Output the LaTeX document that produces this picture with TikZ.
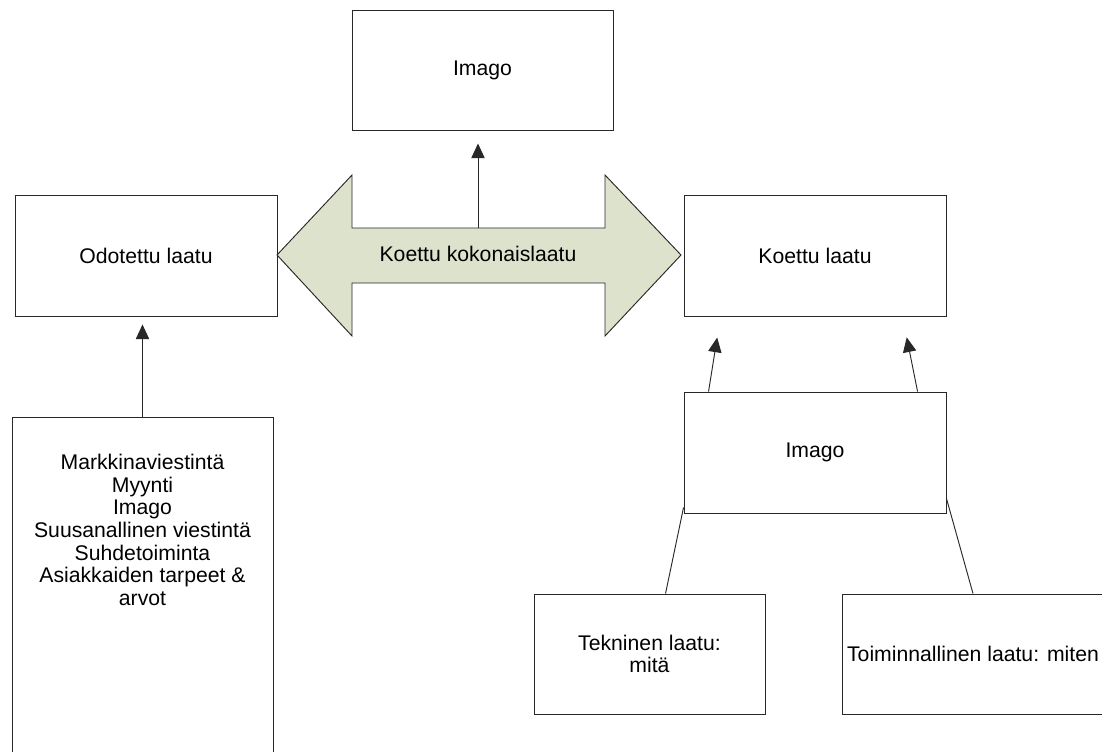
\documentclass[tikz,border=0pt]{standalone}
\usepackage{fontspec}
\setmainfont{Liberation Sans}
\usetikzlibrary{arrows.meta,calc}
\definecolor{edgegray}{RGB}{40,40,40}
\definecolor{arrowfill}{RGB}{221,226,204}

\begin{document}
\begin{tikzpicture}[x=0.75pt,y=0.75pt,yscale=-1,xscale=1,
  box/.style={draw=edgegray,line width=0.7pt,fill=white,inner sep=0pt,align=center,font=\fontsize{15.9}{17}\selectfont},
  txt/.style={inner sep=0pt,align=center,font=\fontsize{15.9}{17}\selectfont},
  arr/.style={draw=edgegray,line width=0.7pt,-{Triangle[length=11pt,width=10pt]}},
  link/.style={draw=edgegray,line width=0.7pt}]
\useasboundingbox (0,0) rectangle (1102,751);

%Shape: Rectangle
\node[box,minimum width=195.75pt,minimum height=90pt] (imagoTop) at (482.5,70) {Imago};
%Shape: Rectangle
\node[box,minimum width=196.5pt,minimum height=90.75pt] (odotettu) at (146,255.5) {Odotettu laatu};
%Shape: Rectangle
\node[box,minimum width=196.5pt,minimum height=90.75pt] (koettu) at (815,255.5) {Koettu laatu};
%Shape: Rectangle
\node[box,minimum width=196.5pt,minimum height=90.75pt] (imagoR) at (815,452.5) {Imago};
%Shape: Rectangle
\node[box,minimum width=195.75pt,minimum height=264.75pt] (lahteet) at (142.5,593.5) {};
% Text Node
\node[txt] (lahteetTxt) at (142.5,530) {Markkinaviestintä\\Myynti\\Imago\\Suusanallinen viestintä\\Suhdetoiminta\\Asiakkaiden tarpeet \&\\arvot};
%Shape: Rectangle
\node[box,minimum width=173.25pt,minimum height=90pt] (tekninen) at (649.5,654) {Tekninen laatu:\\mitä};
%Shape: Rectangle
\node[box,minimum width=196.5pt,minimum height=90pt] (toiminnallinen) at (973,654) {Toiminnallinen laatu: miten};

%Left-Right Arrow
\draw[draw=edgegray,line width=0.7pt,fill=arrowfill] (277,255) -- (352,175) -- (352,228) -- (605,228) -- (605,175) -- (681,255) -- (605,336) -- (605,283) -- (352,283) -- (352,336) -- cycle;
\coordinate (shafttop) at (478,228);
% Text Node
\node[txt] (kokonais) at (478,254) {Koettu kokonaislaatu};

%Straight Lines
\draw[arr,shorten >=6pt] (lahteet.north) -- (lahteet.north |- odotettu.south);
%Straight Lines
\draw[arr,shorten >=9.75pt] (shafttop) -- (shafttop |- imagoTop.south);
%Straight Lines
\draw[arr,shorten >=16pt] ($(imagoR.north west)+(25,0)$) -- ($(koettu.south west)+(37,0)$);
%Straight Lines
\draw[arr,shorten >=16pt] ($(imagoR.north west)+(234,0)$) -- ($(koettu.south west)+(219,0)$);
%Straight Lines
\draw[link] ($(imagoR.south west)+(0,-6)$) -- ($(tekninen.north west)+(132,0)$);
%Straight Lines
\draw[link] ($(imagoR.south east)+(0,-15)$) -- (toiminnallinen.north);

\end{tikzpicture}
\end{document}
